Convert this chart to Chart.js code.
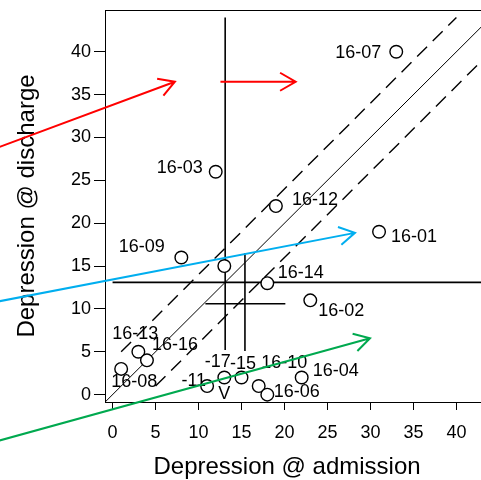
<!DOCTYPE html>
<html>
<head>
<meta charset="utf-8">
<script src="https://cdn.jsdelivr.net/npm/chart.js@4.4.0/dist/chart.umd.min.js"></script>
<style>
  html, body { margin: 0; padding: 0; background: #fff; }
  #wrap { width: 481px; height: 480px; }
</style>
</head>
<body>
<div id="wrap"><canvas id="chart" width="481" height="480"></canvas></div>
<script>
// depression scores per patient
const admission = [33, 12, 19, 31, 8, 13, 18, 23, 3, 4, 1, 13, 15, 11, 17, 18, 22];
const discharge = [40, 26, 22, 19, 16, 15, 13, 11, 5, 4, 3, 2, 2, 1, 1, 0, 2];
const patientIds = ['16-07', '16-03', '16-12', '16-01', '16-09', '', '16-14', '16-02', '16-13',
  '16-16', '16-08', '-17', '-15', '-11', '16-10', '16-06', '16-04'];

const xTicks = [0, 5, 10, 15, 20, 25, 30, 35, 40];
const yTicks = [0, 5, 10, 15, 20, 25, 30, 35, 40];
const xTitle = 'Depression @ admission';
const yTitle = 'Depression @ discharge';

// reference lines [x1, y1, x2, y2]
const refLines = [
  [-1, -1, 45, 45],       // no change
  [1, 5, 40, 44],         // +4
  [5, 1, 44, 40],         // -4
  [13.1, 44, 13.1, 5.2],  // cross
  [0, 13.1, 44, 13.1],
  [15.4, 16.5, 15.4, 5.1],
  [10.8, 10.6, 20.1, 10.6]
];
// coloured arrows [x1, y1, x2, y2]
const arrows = [
  [-15, 28.2, 7.25, 36.5],
  [12.55, 36.5, 21.3, 36.5],
  [-15, 10.54, 28.2, 18.87],
  [-15, -5.86, 29.95, 6.58]
];
const extraText = [['V', 13, 2]];

// styling (not data)
const refStyle = [[1, []], [1.4, [14, 8]], [1.4, [14, 8]], [1.6, []], [1.6, []], [1.6, []], [1.6, []]];
const arrowColors = ['#ff0000', '#ff0000', '#00aeef', '#00a94f'];
// label offsets in px from the point: [dx, dy, align]
const labelOffsets = [
  [-15, 1.5, 'right'], [-13, -3.5, 'right'], [16, -6.5, 'left'], [12, 5.5, 'left'],
  [-16.5, -10, 'right'], [0, 0, 'left'], [10.5, -10.5, 'left'], [8, 11, 'left'],
  [-3, -18, 'center'], [5, -15, 'left'], [-10, 13.5, 'left'], [6.5, -15.5, 'right'],
  [-11.5, -13.5, 'left'], [-1, -5.5, 'right'], [2.5, -23.5, 'left'], [6.5, -2.5, 'left'],
  [11, -6.5, 'left']
];

const FONT = '"Liberation Sans", Arial, sans-serif';

const drawArrow = (ctx, x1, y1, x2, y2, len, ang) => {
  const a = Math.atan2(y2 - y1, x2 - x1);
  ctx.beginPath();
  ctx.moveTo(x1, y1);
  ctx.lineTo(x2, y2);
  ctx.moveTo(x2 - len * Math.cos(a - ang), y2 - len * Math.sin(a - ang));
  ctx.lineTo(x2, y2);
  ctx.lineTo(x2 - len * Math.cos(a + ang), y2 - len * Math.sin(a + ang));
  ctx.stroke();
};

const guides = {
  id: 'guides',
  beforeDatasetsDraw(chart) {
    const { ctx, chartArea: a, scales: { x, y } } = chart;
    ctx.save();
    ctx.beginPath();
    ctx.rect(a.left, a.top, a.right - a.left, a.bottom - a.top);
    ctx.clip();
    ctx.strokeStyle = '#000';
    refLines.forEach((l, i) => {
      ctx.lineWidth = refStyle[i][0];
      ctx.setLineDash(refStyle[i][1]);
      ctx.beginPath();
      ctx.moveTo(x.getPixelForValue(l[0]), y.getPixelForValue(l[1]));
      ctx.lineTo(x.getPixelForValue(l[2]), y.getPixelForValue(l[3]));
      ctx.stroke();
    });
    ctx.restore();
  },
  afterDatasetsDraw(chart) {
    const { ctx, chartArea: a, scales: { x, y } } = chart;
    ctx.save();
    // top of the box
    ctx.strokeStyle = '#000';
    ctx.lineWidth = 1;
    ctx.beginPath();
    ctx.moveTo(a.left, a.top + 0.5);
    ctx.lineTo(a.right, a.top + 0.5);
    ctx.stroke();

    // x axis title, centred on the (uncropped) plot box
    ctx.fillStyle = '#000';
    ctx.font = '24px ' + FONT;
    ctx.textAlign = 'center';
    ctx.textBaseline = 'middle';
    ctx.fillText(xTitle, x.getPixelForValue(20.3), 467);

    // patient labels
    ctx.font = '18px ' + FONT;
    patientIds.forEach((id, i) => {
      if (!id) return;
      const o = labelOffsets[i];
      ctx.textAlign = o[2];
      ctx.fillText(id, x.getPixelForValue(admission[i]) + o[0], y.getPixelForValue(discharge[i]) + o[1]);
    });
    ctx.textAlign = 'center';
    extraText.forEach((t) => {
      ctx.fillText(t[0], x.getPixelForValue(t[1]), y.getPixelForValue(t[2]) + 17);
    });

    // arrows
    ctx.lineWidth = 2;
    arrows.forEach((r, i) => {
      ctx.strokeStyle = arrowColors[i];
      drawArrow(ctx, x.getPixelForValue(r[0]), y.getPixelForValue(r[1]),
        x.getPixelForValue(r[2]), y.getPixelForValue(r[3]), 18, Math.PI / 6);
    });
    ctx.restore();
  }
};

new Chart(document.getElementById('chart').getContext('2d'), {
  type: 'scatter',
  data: {
    datasets: [{
      data: admission.map((v, i) => ({ x: v, y: discharge[i] })),
      pointStyle: 'circle',
      pointRadius: 6.3,
      pointHoverRadius: 6.3,
      borderWidth: 1.4,
      borderColor: '#000',
      backgroundColor: '#fff',
    }],
  },
  options: {
    responsive: false,
    animation: false,
    layout: { autoPadding: false, padding: { top: 10, right: 0, left: 0, bottom: 0 } },
    plugins: { legend: { display: false }, tooltip: { enabled: false } },
    scales: {
      x: {
        type: 'linear',
        min: -0.88,
        max: 42.86,
        afterBuildTicks: (s) => { s.ticks = xTicks.map((v) => ({ value: v })); },
        afterFit: (s) => { s.height = 78; s.paddingLeft = 0; s.paddingRight = 0; },
        grid: { drawOnChartArea: false, tickLength: 8, color: '#000', tickWidth: 1 },
        border: { display: true, color: '#000', width: 1 },
        ticks: { color: '#000', font: { size: 18, family: FONT }, padding: 12, maxRotation: 0 },
      },
      y: {
        type: 'linear',
        min: -0.86,
        max: 44.87,
        afterBuildTicks: (s) => { s.ticks = yTicks.map((v) => ({ value: v })); },
        afterFit: (s) => { s.width = 105; s.paddingTop = 0; s.paddingBottom = 0; },
        grid: { drawOnChartArea: false, tickLength: 11, color: '#000', tickWidth: 1 },
        border: { display: true, color: '#000', width: 1 },
        ticks: { color: '#000', font: { size: 18, family: FONT }, padding: 3 },
        title: {
          display: true,
          text: yTitle,
          color: '#000',
          font: { size: 24, family: FONT, lineHeight: 1.1 },
          padding: { top: 14, bottom: 0 },
        },
      },
    },
  },
  plugins: [guides],
});
</script>
</body>
</html>
